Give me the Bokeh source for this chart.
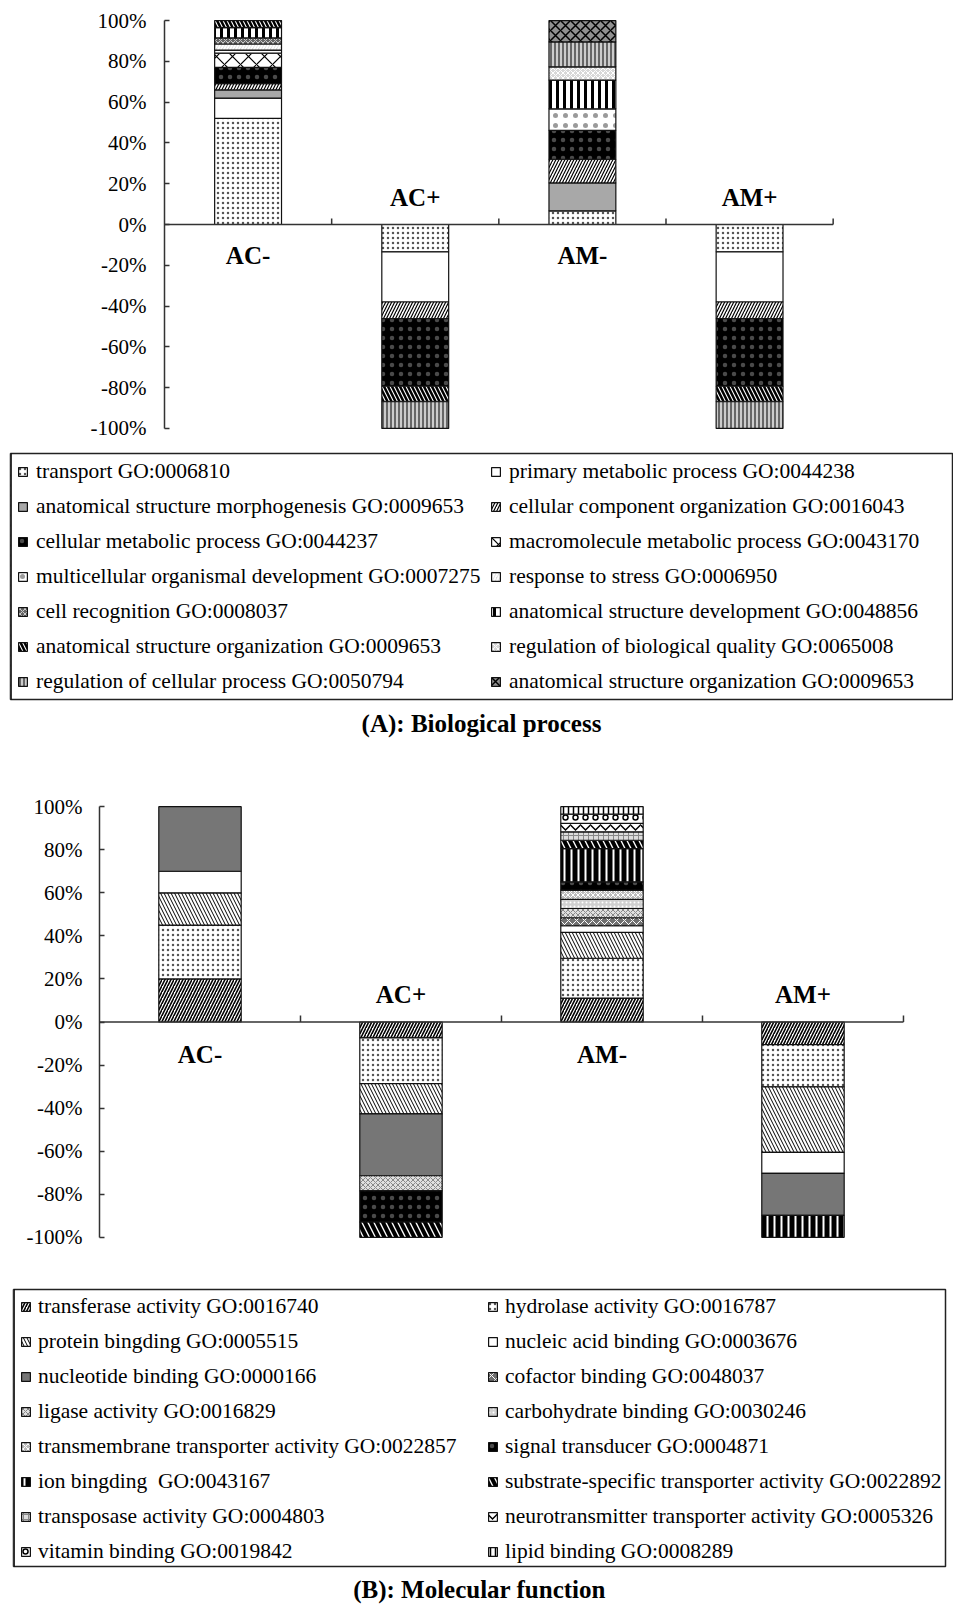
import numpy as np
from bokeh.plotting import figure
from bokeh.models import Range1d, FixedTicker, PrintfTickFormatter, Legend, LegendItem, Title
from bokeh.core.properties import value
from bokeh.embed import file_html
from bokeh.resources import INLINE

# ---------------- data ----------------
categories = ["AC-", "AC+", "AM-", "AM+"]
y_ticks = [-100, -80, -60, -40, -20, 0, 20, 40, 60, 80, 100]

# (A) Biological process (percent of genes; AC+/AM+ drawn downward)
bp_labels = [
    "transport GO:0006810",
    "primary metabolic process GO:0044238",
    "anatomical structure morphogenesis GO:0009653",
    "cellular component organization GO:0016043",
    "cellular metabolic process GO:0044237",
    "macromolecule metabolic process GO:0043170",
    "multicellular organismal development GO:0007275",
    "response to stress GO:0006950",
    "cell recognition GO:0008037",
    "anatomical structure development GO:0048856",
    "anatomical structure organization GO:0009653",
    "regulation of biological quality GO:0065008",
    "regulation of cellular process GO:0050794",
    "anatomical structure organization GO:0009653",
]
bp_transport = [52.0, -13.4, 6.7, -13.4]
bp_primary_metabolic = [10.0, -24.6, 0.0, -24.6]
bp_morphogenesis = [4.0, 0.0, 13.7, 0.0]
bp_component_org = [3.0, -8.2, 11.6, -8.2]
bp_cellular_metabolic = [8.0, -33.1, 14.1, -33.1]
bp_macromolecule = [7.0, 0.0, 0.0, 0.0]
bp_multicellular_dev = [1.5, 0.0, 10.6, 0.0]
bp_stress = [3.0, 0.0, 0.0, 0.0]
bp_cell_recognition = [3.0, 0.0, 0.0, 0.0]
bp_structure_dev = [5.0, 0.0, 14.1, 0.0]
bp_structure_org = [3.5, -7.6, 0.0, -7.6]
bp_bio_quality = [0.0, 0.0, 6.5, 0.0]
bp_cellular_reg = [0.0, -13.1, 12.2, -13.1]
bp_structure_org2 = [0.0, 0.0, 10.5, 0.0]
bp_series = [bp_transport, bp_primary_metabolic, bp_morphogenesis, bp_component_org,
             bp_cellular_metabolic, bp_macromolecule, bp_multicellular_dev, bp_stress,
             bp_cell_recognition, bp_structure_dev, bp_structure_org, bp_bio_quality,
             bp_cellular_reg, bp_structure_org2]

# (B) Molecular function
mf_labels = [
    "transferase activity GO:0016740",
    "hydrolase activity GO:0016787",
    "protein bingding GO:0005515",
    "nucleic acid binding GO:0003676",
    "nucleotide binding GO:0000166",
    "cofactor binding GO:0048037",
    "ligase activity GO:0016829",
    "carbohydrate binding GO:0030246",
    "transmembrane transporter activity GO:0022857",
    "signal transducer GO:0004871",
    "ion bingding  GO:0043167",
    "substrate-specific transporter activity GO:0022892",
    "transposase activity GO:0004803",
    "neurotransmitter transporter activity GO:0005326",
    "vitamin binding GO:0019842",
    "lipid binding GO:0008289",
]
mf_transferase = [20.0, -7.4, 11.1, -10.5]
mf_hydrolase = [25.0, -21.2, 18.5, -19.6]
mf_protein = [15.0, -14.1, 12.0, -30.4]
mf_nucleic = [10.0, 0.0, 3.1, -9.8]
mf_nucleotide = [30.0, -28.7, 0.0, -19.5]
mf_cofactor = [0.0, 0.0, 3.7, 0.0]
mf_ligase = [0.0, -7.0, 4.3, 0.0]
mf_carbohydrate = [0.0, 0.0, 4.2, 0.0]
mf_transmembrane = [0.0, 0.0, 4.3, 0.0]
mf_signal = [0.0, -14.5, 3.9, 0.0]
mf_ion = [0.0, 0.0, 15.4, -10.2]
mf_substrate = [0.0, -7.1, 3.9, 0.0]
mf_transposase = [0.0, 0.0, 3.9, 0.0]
mf_neuro = [0.0, 0.0, 3.9, 0.0]
mf_vitamin = [0.0, 0.0, 4.3, 0.0]
mf_lipid = [0.0, 0.0, 3.5, 0.0]
mf_series = [mf_transferase, mf_hydrolase, mf_protein, mf_nucleic, mf_nucleotide,
             mf_cofactor, mf_ligase, mf_carbohydrate, mf_transmembrane, mf_signal,
             mf_ion, mf_substrate, mf_transposase, mf_neuro, mf_vitamin, mf_lipid]

# ---------------- styles (fill, hatch, hatch colour, scale, weight) ----------------
bp_styles = [
    ("white", "dot", "#555555", 5, 1.2),
    ("white", None, "black", 12, 1),
    ("#a8a8a8", None, "black", 12, 1),
    ("white", "right_diagonal_line", "black", 6, 1.2),
    ("black", "dot", "#4a4a4a", 9, 1),
    ("white", "diagonal_cross", "black", 16, 1.2),
    ("white", "dot", "#9a9a9a", 10, 1),
    ("#dcdcdc", "right_diagonal_line", "white", 6, 2),
    ("#666666", "diagonal_cross", "#cccccc", 5, 1),
    ("white", "vertical_line", "black", 7, 3),
    ("white", "left_diagonal_line", "black", 8, 2.5),
    ("#d8d8d8", "diagonal_cross", "white", 5, 1),
    ("#cccccc", "vertical_line", "black", 4, 1),
    ("#909090", "diagonal_cross", "black", 10, 1.5),
]
mf_styles = [
    ("white", "right_diagonal_line", "black", 6, 1.6),
    ("white", "dot", "#555555", 5, 1.2),
    ("white", "left_diagonal_line", "black", 7, 1),
    ("white", None, "black", 12, 1),
    ("#767676", None, "black", 12, 1),
    ("#707070", "diagonal_cross", "white", 8, 1),
    ("#e0e0e0", "diagonal_cross", "#888888", 5, 1),
    ("#d0d0d0", "dot", "white", 4, 1),
    ("#bbbbbb", "diagonal_cross", "white", 5, 1),
    ("black", "dot", "#4a4a4a", 9, 1),
    ("black", "vertical_line", "white", 7, 2),
    ("white", "left_diagonal_line", "black", 12, 4),
    ("#dddddd", "cross", "#888888", 5, 1),
    ("white", "horizontal_wave", "black", 10, 1.5),
    ("white", "ring", "black", 10, 1.5),
    ("white", "vertical_line", "black", 5, 1.5),
]

SERIF = "Liberation Serif"
FIG_W = 953


def style_kw(st):
    fill, hatch, hcol, hscale, hweight = st
    return dict(fill_color=fill, hatch_pattern=hatch, hatch_color=hcol,
                hatch_scale=hscale, hatch_weight=hweight,
                line_color="#111111", line_width=1.2)


def make_chart(series, styles, height, b_left, frame_w, b_top, b_bottom, bar_w, standoff):
    n = len(categories)
    p = figure(width=FIG_W, height=height, x_range=Range1d(0, n + 0.02),
               y_range=Range1d(-101, 101), x_axis_location=None,
               output_backend="svg", toolbar_location=None,
               min_border_left=b_left, min_border_right=FIG_W - b_left - frame_w,
               min_border_top=b_top, min_border_bottom=b_bottom)
    p.outline_line_color = None
    p.grid.visible = False
    ax = p.yaxis[0]
    ax.ticker = FixedTicker(ticks=y_ticks)
    ax.formatter = PrintfTickFormatter(format="%d%%")
    ax.bounds = (-100, 100)
    ax.major_tick_in = 5
    ax.major_tick_out = 0
    ax.minor_tick_line_color = None
    ax.axis_line_width = 1.5
    ax.axis_line_color = "#333333"
    ax.major_tick_line_color = "#333333"
    ax.major_tick_line_width = 1.5
    ax.major_label_text_font = SERIF
    ax.major_label_text_font_size = "21px"
    ax.major_label_text_color = "black"
    ax.major_label_standoff = standoff

    x = np.arange(n) + 0.5
    cum = np.zeros(n)
    for vals, st in zip(series, styles):
        v = np.asarray(vals, dtype=float)
        bottom = cum.copy()
        top = cum + v
        cum = top
        m = v != 0
        p.vbar(x=x[m], bottom=bottom[m], top=top[m], width=bar_w, **style_kw(st))

    # category axis drawn through 0 %
    p.segment(x0=[0], y0=[0], x1=[n], y1=[0], line_color="#333333", line_width=1.5)
    bnd = np.arange(1, n + 1)
    p.segment(x0=bnd, y0=np.zeros(n), x1=bnd, y1=np.full(n, 3.0),
              line_color="#333333", line_width=1.5)

    totals = np.sum(np.asarray(series, dtype=float), axis=0)
    label_y = np.where(totals > 0, -15.0, 13.0)
    p.text(x=x, y=label_y, text=categories, text_align="center", text_baseline="middle",
           text_font=value(SERIF), text_font_style="bold", text_font_size="25px",
           text_color="black")
    return p


def make_legend(labels, styles, title, height, b_left, frame_w, b_top, frame_h,
                col1_x, col2_x, leg_y, standoff_lbl, title_standoff):
    p = figure(width=FIG_W, height=height, x_range=Range1d(0, 1), y_range=Range1d(0, 1),
               x_axis_location=None, y_axis_location=None,
               output_backend="svg", toolbar_location=None,
               min_border_left=b_left, min_border_right=FIG_W - b_left - frame_w,
               min_border_top=b_top, min_border_bottom=height - b_top - frame_h)
    p.grid.visible = False
    p.outline_line_color = "#222222"
    p.outline_line_width = 1.5
    items = []
    for lab, st in zip(labels, styles):
        # swatch renderer kept outside the visible range; only its legend icon shows
        r = p.vbar(x=[-5], bottom=[0], top=[1], width=0.1, **style_kw(st))
        items.append(LegendItem(label=lab, renderers=[r]))
    for its, xo in ((items[0::2], col1_x), (items[1::2], col2_x)):
        lg = Legend(items=its, location=(xo, leg_y), orientation="vertical",
                    padding=0, margin=0, spacing=9, label_height=26,
                    label_standoff=standoff_lbl, glyph_width=11, glyph_height=11,
                    border_line_color=None, background_fill_alpha=0,
                    label_text_font=SERIF, label_text_font_size="21.5px",
                    label_text_color="black")
        p.add_layout(lg, "center")
    p.add_layout(Title(text=title, align="center", text_font=SERIF,
                       text_font_size="25px", text_font_style="bold",
                       text_color="black", standoff=title_standoff), "below")
    return p


chart_a = make_chart(bp_series, bp_styles, height=445, b_left=164, frame_w=672,
                     b_top=18, b_bottom=15, bar_w=0.40, standoff=18)
legend_a = make_legend(bp_labels, bp_styles, "(A): Biological process", height=307,
                       b_left=10, frame_w=942, b_top=8, frame_h=246,
                       col1_x=7, col2_x=480, leg_y=5, standoff_lbl=8, title_standoff=17)
chart_b = make_chart(mf_series, mf_styles, height=508, b_left=99, frame_w=808,
                     b_top=52, b_bottom=21, bar_w=0.41, standoff=17)
legend_b = make_legend(mf_labels, mf_styles, "(B): Molecular function", height=349,
                       b_left=13, frame_w=932, b_top=29, frame_h=281,
                       col1_x=7, col2_x=474, leg_y=2, standoff_lbl=7, title_standoff=14)

open("out.html", "w").write(file_html([chart_a, legend_a, chart_b, legend_b], INLINE))
